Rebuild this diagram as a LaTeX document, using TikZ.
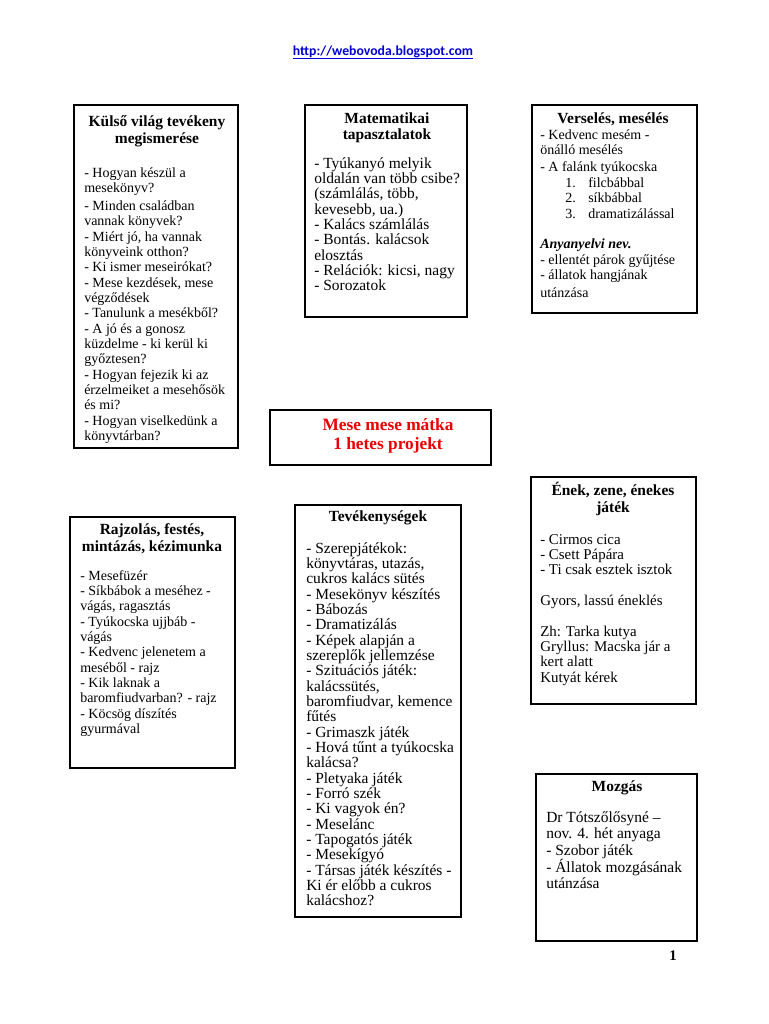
\documentclass[tikz,border=0pt]{standalone}
\usepackage{fontspec}
\setmainfont{Liberation Serif}
\newfontfamily\urlfont{Carlito}
\usetikzlibrary{fit,shadows,calc}
\definecolor{urlblue}{RGB}{0,0,210}
\definecolor{titlered}{RGB}{235,0,0}
\begin{document}
\begin{tikzpicture}[x=0.75pt,y=-0.75pt,
  box/.style={draw, line width=0.8pt, fill=white, inner sep=0pt,
    drop shadow={shadow xshift=0.8pt, shadow yshift=-0.8pt, fill=black, opacity=1}},
  body/.style={anchor=base west, inner sep=0pt, font=\fontsize{11.6pt}{11.5pt}\selectfont},
  smallbody/.style={body, font=\fontsize{10.5pt}{11.5pt}\selectfont},
  head/.style={anchor=base, inner sep=0pt, font=\bfseries\fontsize{11.6pt}{12.8pt}\selectfont},
  title/.style={anchor=base, inner sep=0pt, text=titlered, font=\bfseries\fontsize{13pt}{14.3pt}\selectfont}]
\fill[white] (0,0) rectangle (768,1024);
\useasboundingbox (0,0) rectangle (768,1024);

% URL
\node[anchor=base, inner sep=0pt, text=urlblue, font=\urlfont\bfseries\fontsize{10.3pt}{12pt}\selectfont] (url) at (383,56) {http://webovoda.blogspot.com};
\draw[urlblue, line width=0.6pt] ($(url.base west)+(0,2.5)$) -- ($(url.base east)+(0,2.5)$);

% boxes
\node[box, fit={(74,105) (238,448)}] (b1) {};
\node[box, fit={(305,105) (467,317)}] (b2) {};
\node[box, fit={(532,105) (697,313)}] (b3) {};
\node[box, fit={(270,410) (491,465)}] (bc) {};
\node[box, fit={(70,517) (235,768)}] (b4) {};
\node[box, fit={(295,505) (461,917)}] (b5) {};
\node[box, fit={(531,477) (696,704)}] (b6) {};
\node[box, fit={(536,774) (697,941)}] (b7) {};

% box 1
\node[head] (h1) at (157,126) {\parbox[t]{180pt}{\centering Külső világ tevékeny\\megismerése}};
\node[smallbody] (t1) at (84,177) {\parbox[t]{200pt}{\raggedright
- Hogyan készül a\\
mesekönyv?\\[2.2pt]
- Minden családban\\
vannak könyvek?\\
- Miért jó, ha vannak\\
könyveink otthon?\\
- Ki ismer meseirókat?\\
- Mese kezdések, mese\\
végződések\\
- Tanulunk a mesékből?\\
- A jó és a gonosz\\
küzdelme - ki kerül ki\\
győztesen?\\
- Hogyan fejezik ki az\\
érzelmeiket a mesehősök\\
és mi?\\
- Hogyan viselkedünk a\\
könyvtárban?}};

% box 2
\node[head] (h2) at (387,123) {\parbox[t]{180pt}{\centering Matematikai\\[-0.6pt]tapasztalatok}};
\node[body] (t2) at (314,168) {\parbox[t]{200pt}{\raggedright
- Tyúkanyó melyik\\
oldalán van több csibe?\\
(számlálás, több,\\
kevesebb, ua.)\\
- Kalács számlálás\\
- Bontás. kalácsok\\
elosztás\\
- Relációk: kicsi, nagy\\
- Sorozatok}};

% box 3
\node[head] (h3) at (613,123) {Verselés, mesélés};
\node[smallbody] (t3) at (540,139) {\parbox[t]{200pt}{\raggedright
- Kedvenc mesém -\\
önálló mesélés\\[1.3pt]
- A falánk tyúkocska\\[0.5pt]
\hspace*{18.75pt}\makebox[17.25pt][l]{1.}filcbábbal\\
\hspace*{18.75pt}\makebox[17.25pt][l]{2.}síkbábbal\\
\hspace*{18.75pt}\makebox[17.25pt][l]{3.}dramatizálással\\[11.5pt]
\textbf{\textit{Anyanyelvi nev.}}\\
- ellentét párok gyűjtése\\
- állatok hangjának\\[2pt]
utánzása}};

% center
\node[title] (tc) at (388,430) {\parbox[t]{200pt}{\centering Mese mese mátka\\1 hetes projekt}};

% box 4
\node[head] (h4) at (152,534) {\parbox[t]{180pt}{\centering Rajzolás, festés,\\[0.4pt]mintázás, kézimunka}};
\node[smallbody] (t4) at (80,580) {\parbox[t]{200pt}{\raggedright
- Mesefüzér\\
- Síkbábok a meséhez -\\
vágás, ragasztás\\
- Tyúkocska ujjbáb -\\
vágás\\
- Kedvenc jelenetem a\\
meséből - rajz\\
- Kik laknak a\\
baromfiudvarban? - rajz\\
- Köcsög díszítés\\
gyurmával}};

% box 5
\node[head] (h5) at (378,521) {Tevékenységek};
\node[body] (t5) at (306,553) {\parbox[t]{200pt}{\raggedright
- Szerepjátékok:\\
könyvtáras, utazás,\\
cukros kalács sütés\\
- Mesekönyv készítés\\
- Bábozás\\
- Dramatizálás\\
- Képek alapján a\\
szereplők jellemzése\\
- Szituációs játék:\\
kalácssütés,\\
baromfiudvar, kemence\\
fűtés\\
- Grimaszk játék\\
- Hová tűnt a tyúkocska\\
kalácsa?\\
- Pletyaka játék\\
- Forró szék\\
- Ki vagyok én?\\
- Meselánc\\
- Tapogatós játék\\
- Mesekígyó\\
- Társas játék készítés -\\
Ki ér előbb a cukros\\
kalácshoz?}};

% box 6
\node[head] (h6) at (613,495) {\parbox[t]{180pt}{\centering Ének, zene, énekes\\játék}};
\node[body, font=\fontsize{11.2pt}{11.5pt}\selectfont] (t6) at (540,544) {\parbox[t]{200pt}{\raggedright
- Cirmos cica\\
- Csett Pápára\\
- Ti csak esztek isztok\\[11.5pt]
Gyors, lassú éneklés\\[11.5pt]
Zh: Tarka kutya\\
Gryllus: Macska jár a\\
kert alatt\\
Kutyát kérek}};

% box 7
\node[head] (h7) at (617,791) {Mozgás};
\node[body, font=\fontsize{11.6pt}{12.5pt}\selectfont] (t7) at (546,822) {\parbox[t]{200pt}{\raggedright
Dr Tótszőlősyné --\\
nov. 4. hét anyaga\\
- Szobor játék\\
- Állatok mozgásának\\
utánzása}};

% page number
\node[anchor=base, inner sep=0pt, font=\bfseries\fontsize{11pt}{13pt}\selectfont] (pg) at (673,960) {1};
\end{tikzpicture}
\end{document}
